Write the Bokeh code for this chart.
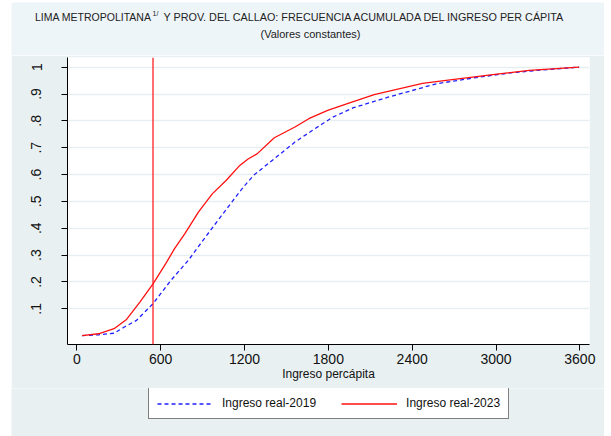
from bokeh.plotting import figure
from bokeh.layouts import column
from bokeh.models import FixedTicker, Span, Label, Legend, LegendItem
from bokeh.embed import file_html
from bokeh.resources import INLINE

# ---- data ----
x_2019 = [37, 155, 266, 340, 427, 545, 673, 797, 920, 1018, 1117, 1191, 1265, 1413,
          1561, 1684, 1832, 1980, 2227, 2400, 2572, 2843, 3090, 3337, 3595]
y_2019 = [0.0, 0.003, 0.009, 0.032, 0.057, 0.119, 0.206, 0.28, 0.367, 0.435, 0.503,
          0.553, 0.597, 0.659, 0.721, 0.764, 0.814, 0.849, 0.888, 0.913, 0.938, 0.96,
          0.978, 0.99, 1.0]

x_2023 = [37, 155, 266, 353, 451, 545, 636, 698, 772, 870, 969, 1068, 1166, 1228, 1290,
          1413, 1561, 1660, 1795, 1931, 2128, 2251, 2474, 2671, 2991, 3238, 3595]
y_2023 = [0.0, 0.007, 0.026, 0.059, 0.125, 0.193, 0.268, 0.323, 0.379, 0.46, 0.528,
          0.578, 0.634, 0.659, 0.677, 0.737, 0.777, 0.808, 0.839, 0.863, 0.898, 0.913,
          0.94, 0.953, 0.973, 0.988, 1.0]

poverty_line = 545

x_ticks = [0, 600, 1200, 1800, 2400, 3000, 3600]
y_ticks = [0.1, 0.2, 0.3, 0.4, 0.5, 0.6, 0.7, 0.8, 0.9, 1.0]
y_tick_labels = [".1", ".2", ".3", ".4", ".5", ".6", ".7", ".8", ".9", "1"]

series_names = ["Ingreso real-2019", "Ingreso real-2023"]
title_part1 = "LIMA METROPOLITANA"
title_sup = "1/"
title_part2 = "Y PROV. DEL CALLAO: FRECUENCIA ACUMULADA DEL INGRESO PER CÁPITA"
subtitle = "(Valores constantes)"
x_label = "Ingreso percápita"

FONT = "Liberation Sans"
OUTER_BG = "#e8f0f2"
BAND_BG = "#eef5f9"
BLUE = "#2020ff"
RED = "#ff1010"
W = 593

# ---- title band ----
t = figure(width=W, height=53, frame_width=W, frame_height=53,
           min_border=0, x_range=(0, W), y_range=(0, 53),
           x_axis_type=None, y_axis_type=None, title=None,
           output_backend="svg", toolbar_location=None,
           background_fill_color=BAND_BG, border_fill_color=BAND_BG,
           outline_line_color=None, frame_align=False)
t.xgrid.visible = False
t.ygrid.visible = False
common = dict(text_font=FONT, text_color="#222222", text_baseline="middle")
t.add_layout(Label(x=140, y=38.7, text=title_part1, text_align="right",
                   text_font_size="10.5px", **common))
t.add_layout(Label(x=141, y=42, text=title_sup, text_align="left",
                   text_font_size="7px", **common))
t.add_layout(Label(x=152, y=38.7, text=title_part2, text_align="left",
                   text_font_size="10.8px", **common))
t.add_layout(Label(x=299, y=22, text=subtitle, text_align="center",
                   text_font_size="11px", **common))

# ---- main chart ----
p = figure(
    title=None,
    frame_width=522, frame_height=287,
    min_border_left=56, min_border_right=15, min_border_top=2, min_border_bottom=44,
    x_range=(-67, 3669), y_range=(-0.033, 1.036),
    output_backend="svg", toolbar_location=None,
    background_fill_color="white", border_fill_color=OUTER_BG,
    outline_line_color=None, frame_align=False,
)

p.xgrid.visible = False
p.ygrid.ticker = FixedTicker(ticks=y_ticks)
p.ygrid.grid_line_color = "#e6eef1"
p.ygrid.grid_line_width = 1.5

p.xaxis.ticker = FixedTicker(ticks=x_ticks)
p.yaxis.ticker = FixedTicker(ticks=y_ticks)
p.yaxis.major_label_overrides = {tk: lb for tk, lb in zip(y_ticks, y_tick_labels)}
p.yaxis.major_label_orientation = "vertical"
for ax in (p.xaxis[0], p.yaxis[0]):
    ax.axis_line_color = "black"
    ax.axis_line_width = 1
    ax.major_tick_line_color = "black"
    ax.major_tick_out = 6
    ax.major_tick_in = 0
    ax.minor_tick_line_color = None
    ax.major_label_text_font = FONT
    ax.major_label_text_font_size = "14px"
    ax.major_label_text_color = "#111111"
p.xaxis.major_label_standoff = 3
p.yaxis.major_label_standoff = 20
p.xaxis.axis_label = x_label
p.xaxis.axis_label_text_font = FONT
p.xaxis.axis_label_text_font_size = "12px"
p.xaxis.axis_label_text_font_style = "normal"
p.xaxis.axis_label_text_color = "#111111"
p.xaxis.axis_label_standoff = 0

p.line(x_2019, y_2019, line_color=BLUE, line_width=1.3, line_dash="4 3")
p.line(x_2023, y_2023, line_color=RED, line_width=1.3)

p.add_layout(Span(location=poverty_line, dimension="height",
                  line_color=RED, line_width=1.2))

# ---- legend band (legend drawn inside this figure's frame) ----
b = figure(width=W, height=48, frame_width=W, frame_height=48,
           min_border=0, x_range=(0, W), y_range=(0, 48),
           x_axis_type=None, y_axis_type=None, title=None,
           output_backend="svg", toolbar_location=None,
           background_fill_color=OUTER_BG, border_fill_color=OUTER_BG,
           outline_line_color=None, frame_align=False)
b.xgrid.visible = False
b.ygrid.visible = False
r19 = b.line(x_2019, y_2019, line_color=BLUE, line_width=1.3, line_dash="4 3",
             visible=False)
r23 = b.line(x_2023, y_2023, line_color=RED, line_width=1.3, visible=False)

lg = Legend(items=[LegendItem(label=series_names[0], renderers=[r19]),
                   LegendItem(label=series_names[1], renderers=[r23])],
            orientation="horizontal", location=(137, 17), click_policy="none",
            border_line_color="black", border_line_width=1,
            background_fill_color="white", background_fill_alpha=1,
            padding=8, spacing=25, margin=0,
            glyph_width=56, glyph_height=11, label_height=11, label_standoff=9,
            label_text_font=FONT, label_text_font_size="12px",
            label_text_color="#111111")
b.add_layout(lg, "center")

layout = column(t, p, b, spacing=0, margin=(2, 0, 0, 11))

open("out.html", "w").write(file_html(layout, INLINE))
